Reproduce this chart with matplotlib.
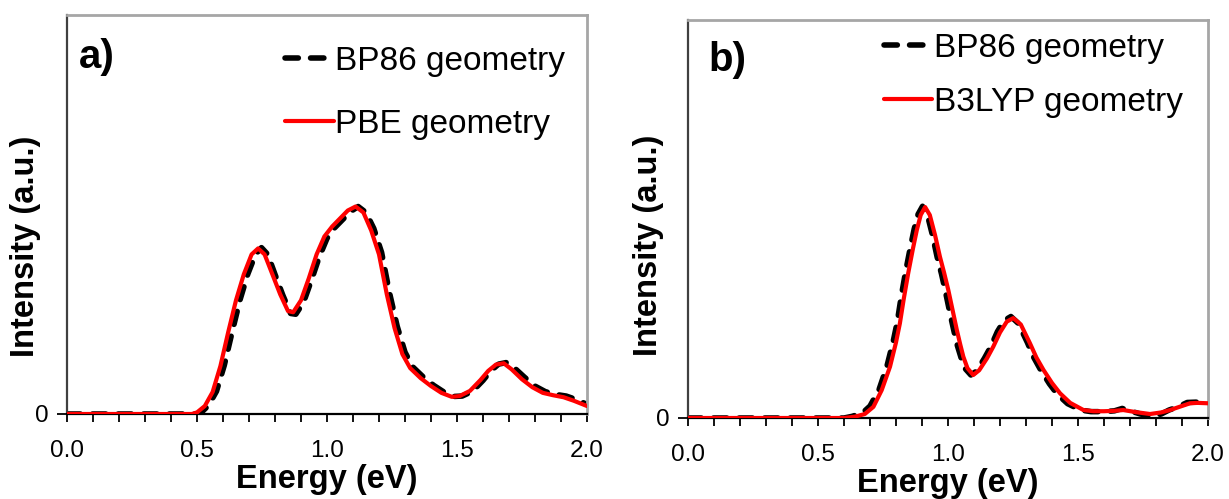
import matplotlib
matplotlib.use("Agg")
import matplotlib.pyplot as plt
from matplotlib.ticker import MultipleLocator

plt.rcParams['font.family'] = ['Liberation Sans', 'DejaVu Sans']

# ---------------- Panel a data ----------------
a_pbe_x = [0.00, 0.10, 0.20, 0.30, 0.40, 0.48, 0.50, 0.53, 0.56, 0.59, 0.62, 0.65, 0.68, 0.71,
           0.735, 0.76, 0.79, 0.82, 0.85, 0.87, 0.90, 0.93, 0.96, 0.99, 1.02, 1.05, 1.08, 1.11,
           1.14, 1.17, 1.20, 1.23, 1.26, 1.29, 1.32, 1.36, 1.40, 1.44, 1.48, 1.51, 1.55, 1.59,
           1.62, 1.65, 1.68, 1.71, 1.75, 1.79, 1.83, 1.87, 1.91, 1.95, 2.00]
a_pbe_y = [0.000, 0.000, 0.000, 0.000, 0.000, 0.000, 0.004, 0.020, 0.055, 0.120, 0.205, 0.285,
           0.350, 0.400, 0.415, 0.400, 0.350, 0.300, 0.258, 0.255, 0.285, 0.340, 0.400, 0.445,
           0.470, 0.490, 0.510, 0.520, 0.505, 0.460, 0.400, 0.300, 0.215, 0.150, 0.115, 0.090,
           0.070, 0.053, 0.043, 0.045, 0.058, 0.085, 0.108, 0.124, 0.127, 0.112, 0.087, 0.067,
           0.053, 0.047, 0.042, 0.033, 0.020]

a_bp86_x = [0.00, 0.10, 0.20, 0.30, 0.40, 0.50, 0.52, 0.545, 0.575, 0.605, 0.635, 0.665, 0.695,
            0.725, 0.748, 0.772, 0.80, 0.83, 0.86, 0.88, 0.91, 0.94, 0.97, 1.00, 1.03, 1.06, 1.09,
            1.12, 1.15, 1.18, 1.21, 1.24, 1.27, 1.30, 1.33, 1.37, 1.41, 1.45, 1.49, 1.52, 1.56,
            1.60, 1.63, 1.66, 1.69, 1.72, 1.76, 1.80, 1.84, 1.88, 1.92, 1.96, 2.00]
a_bp86_y = [0.000, 0.000, 0.000, 0.000, 0.000, 0.000, 0.006, 0.022, 0.057, 0.122, 0.205, 0.285,
            0.350, 0.400, 0.417, 0.400, 0.350, 0.298, 0.252, 0.250, 0.280, 0.335, 0.393, 0.440,
            0.467, 0.487, 0.507, 0.520, 0.505, 0.465, 0.405, 0.305, 0.220, 0.155, 0.118, 0.093,
            0.072, 0.055, 0.044, 0.045, 0.057, 0.084, 0.108, 0.125, 0.129, 0.116, 0.092, 0.070,
            0.056, 0.049, 0.045, 0.036, 0.024]

# ---------------- Panel b data ----------------
b_b3lyp_x = [0.00, 0.10, 0.20, 0.30, 0.40, 0.50, 0.60, 0.64, 0.68, 0.713, 0.745, 0.777, 0.80,
             0.815, 0.83, 0.847, 0.865, 0.88, 0.895, 0.912, 0.93, 0.95, 0.969, 0.985, 1.001,
             1.018, 1.034, 1.047, 1.059, 1.075, 1.097, 1.12, 1.15, 1.174, 1.20, 1.226, 1.251,
             1.28, 1.315, 1.34, 1.367, 1.40, 1.431, 1.47, 1.521, 1.56, 1.60, 1.64, 1.674, 1.72,
             1.777, 1.82, 1.854, 1.89, 1.931, 1.96, 2.00]
b_b3lyp_y = [0.000, 0.000, 0.000, 0.000, 0.000, 0.000, 0.000, 0.003, 0.010, 0.028, 0.070, 0.129,
             0.190, 0.238, 0.300, 0.364, 0.425, 0.472, 0.510, 0.530, 0.510, 0.460, 0.405, 0.365,
             0.322, 0.270, 0.221, 0.185, 0.154, 0.125, 0.108, 0.120, 0.150, 0.179, 0.215, 0.242,
             0.251, 0.235, 0.188, 0.152, 0.121, 0.088, 0.062, 0.038, 0.020, 0.017, 0.017, 0.018,
             0.020, 0.015, 0.010, 0.014, 0.020, 0.028, 0.037, 0.038, 0.037]

b_bp86_x = [0.00, 0.10, 0.20, 0.30, 0.40, 0.50, 0.60, 0.63, 0.67, 0.70, 0.735, 0.765, 0.79, 0.805,
            0.82, 0.837, 0.855, 0.87, 0.885, 0.902, 0.92, 0.94, 0.958, 0.975, 0.99, 1.007, 1.023,
            1.036, 1.05, 1.066, 1.088, 1.11, 1.14, 1.165, 1.19, 1.216, 1.242, 1.27, 1.305, 1.33,
            1.357, 1.39, 1.42, 1.46, 1.51, 1.55, 1.60, 1.64, 1.67, 1.70, 1.74, 1.78, 1.82, 1.85,
            1.885, 1.92, 1.96, 2.00]
b_bp86_y = [0.000, 0.000, 0.000, 0.000, 0.000, 0.000, 0.000, 0.004, 0.012, 0.030, 0.072, 0.130,
            0.195, 0.242, 0.305, 0.368, 0.428, 0.475, 0.512, 0.532, 0.512, 0.460, 0.405, 0.362,
            0.318, 0.265, 0.218, 0.182, 0.152, 0.124, 0.108, 0.118, 0.150, 0.180, 0.217, 0.245,
            0.255, 0.238, 0.190, 0.152, 0.120, 0.086, 0.060, 0.036, 0.020, 0.016, 0.016, 0.018,
            0.024, 0.018, 0.010, 0.005, 0.010, 0.020, 0.028, 0.039, 0.040, 0.038]

x_tick_labels = ["0.0", "0.5", "1.0", "1.5", "2.0"]
x_tick_vals = [0.0, 0.5, 1.0, 1.5, 2.0]
xlabel = "Energy (eV)"
ylabel = "Intensity (a.u.)"

W, H = 1229, 499
fig = plt.figure(figsize=(W / 100, H / 100), dpi=100)

def px_axes(left, right, top, bottom):
    return fig.add_axes([left / W, 1 - bottom / H, (right - left) / W, (bottom - top) / H])

ax_a = px_axes(67, 587, 15, 414)
ax_b = px_axes(688, 1208, 20, 418)

dash_kw = dict(color='black', lw=4.0, linestyle=(0, (2.4, 2.2)), dash_capstyle='round')
red_kw = dict(color='#ff0000', lw=3.0, solid_capstyle='round')

def style(ax, label_xy):
    ax.set_xlim(0, 2.0)
    ax.set_ylim(0, 1.0)
    ax.set_xticks(x_tick_vals)
    ax.set_xticklabels(x_tick_labels)
    ax.xaxis.set_minor_locator(MultipleLocator(0.1))
    ax.tick_params(axis='x', which='both', direction='out', length=6, width=1.3,
                   labelsize=17.5, pad=13, color='black')
    ax.set_yticks([0])
    ax.set_yticklabels(["0"])
    ax.tick_params(axis='y', direction='out', length=7, width=1.3, labelsize=17.5, pad=6)
    for s in ('top', 'right'):
        ax.spines[s].set_color('#a6a6a6')
        ax.spines[s].set_linewidth(2.0)
    ax.spines['left'].set_color('#404040')
    ax.spines['left'].set_linewidth(1.6)
    ax.spines['bottom'].set_color('black')
    ax.spines['bottom'].set_linewidth(1.6)
    ax.set_xlabel(xlabel, fontsize=23.5, fontweight='bold', labelpad=1)
    ax.set_ylabel(ylabel, fontsize=23.5, fontweight='bold')
    ax.yaxis.set_label_coords(*label_xy)

# Panel a
la1, = ax_a.plot(a_bp86_x, a_bp86_y, label="BP86 geometry", zorder=2, **dash_kw)
la2, = ax_a.plot(a_pbe_x, a_pbe_y, label="PBE geometry", zorder=3, **red_kw)
style(ax_a, (-0.05, 0.42))
ax_a.text(0.022, 0.895, "a)", transform=ax_a.transAxes, fontsize=29, fontweight='bold',
          va='center', ha='left')
ax_a.legend(handles=[la1, la2], loc='upper left', bbox_to_anchor=(0.42, 0.922),
            frameon=False, fontsize=24, handlelength=1.45, handletextpad=0.05,
            borderpad=0, borderaxespad=0, labelspacing=0.95)

# Panel b
lb1, = ax_b.plot(b_bp86_x, b_bp86_y, label="BP86 geometry", zorder=2, **dash_kw)
lb2, = ax_b.plot(b_b3lyp_x, b_b3lyp_y, label="B3LYP geometry", zorder=3, **red_kw)
style(ax_b, (-0.047, 0.435))
ax_b.text(0.04, 0.90, "b)", transform=ax_b.transAxes, fontsize=29, fontweight='bold',
          va='center', ha='left')
ax_b.legend(handles=[lb1, lb2], loc='upper left', bbox_to_anchor=(0.376, 0.968),
            frameon=False, fontsize=24, handlelength=1.45, handletextpad=0.05,
            borderpad=0, borderaxespad=0, labelspacing=0.7)

fig.savefig("out.png", dpi=100)
